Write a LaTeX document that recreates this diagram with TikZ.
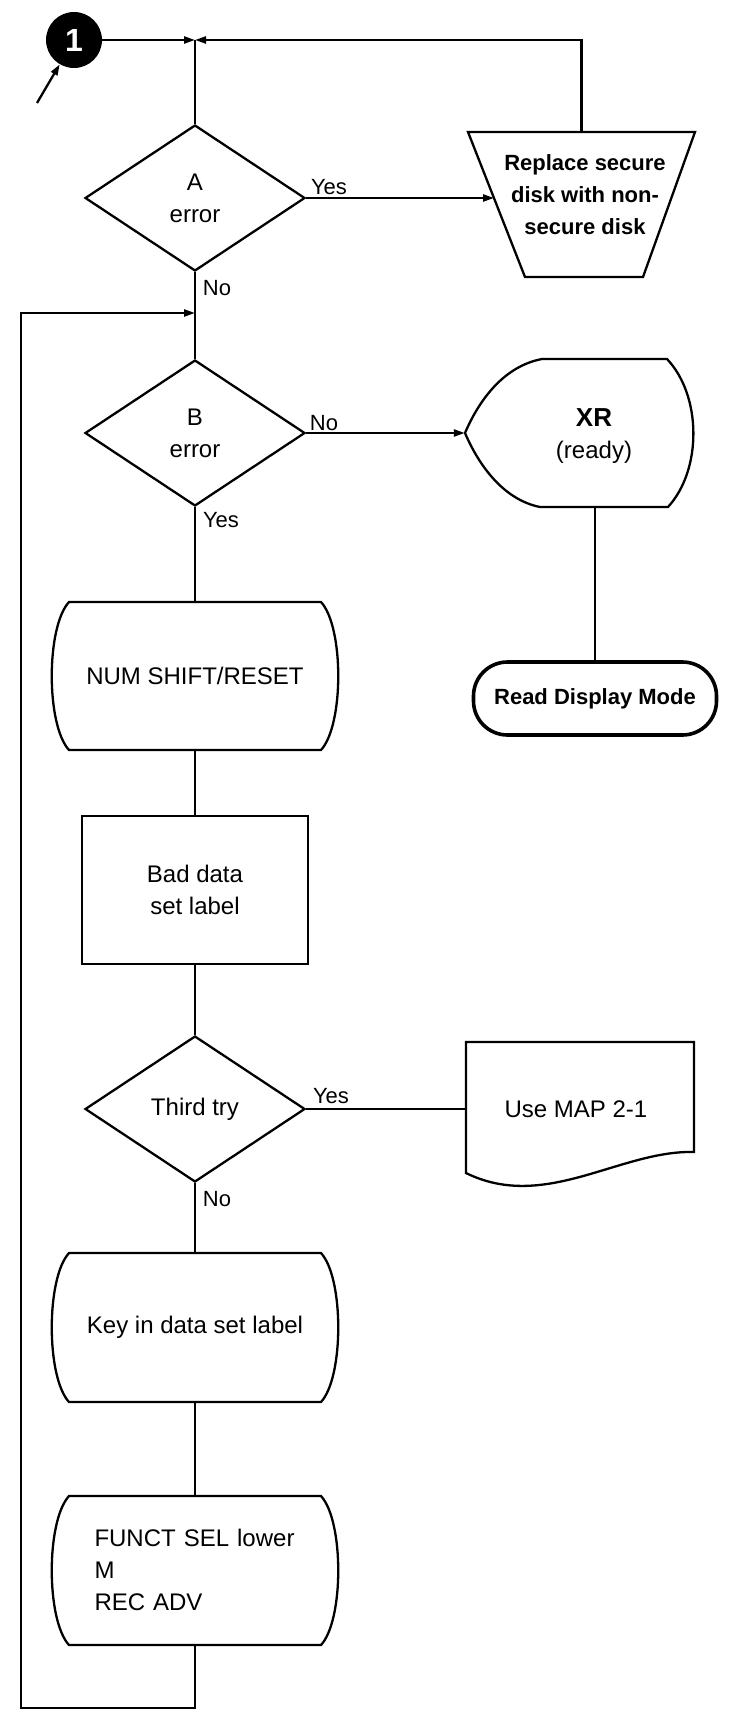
\documentclass[tikz,border=0pt]{standalone}
\usepackage{fontspec}
\setmainfont{Liberation Sans}
\usetikzlibrary{arrows.meta,shapes.geometric,calc}
\tikzset{
  ln/.style={line width=2.3pt, line join=miter},
  arr/.style={ln, -{Triangle[length=11pt,width=7pt]}},
  txt/.style={font=\fontsize{24}{32}\selectfont, align=center, inner sep=0pt},
  btxt/.style={font=\bfseries\fontsize{22}{32}\selectfont, align=center, inner sep=0pt},
  lbl/.style={font=\fontsize{22}{26}\selectfont, inner sep=0pt},
  dec/.style={diamond, draw, ln, inner sep=0pt, minimum width=220pt, minimum height=146pt, aspect=1.5, font=\fontsize{24}{32}\selectfont, align=center},
  outl/.style={rectangle, inner sep=0pt},
  procbox/.style={rectangle, draw, ln, inner sep=0pt, font=\fontsize{24}{32}\selectfont, align=center},
  termbox/.style={rectangle, draw, line width=3.6pt, rounded corners=34pt, inner sep=0pt, font=\bfseries\fontsize{22}{32}\selectfont}
}
\begin{document}
\begin{tikzpicture}[x=1pt,y=-1pt]
\fill[white] (0,0) rectangle (736,1712);
\useasboundingbox (0,0) rectangle (736,1712);

% connector circle
\node[circle, fill=black, minimum size=56pt, inner sep=0pt] (c1) at (74,40)
  {\color{white}\bfseries\fontsize{32}{32}\selectfont 1};
\coordinate (entry) at (37,103);
\coordinate (j1) at (195,40);
\coordinate (j2) at (195,313);

% decisions
\node[dec] (dA) at (195,198) {A\\error};
\node[dec] (dB) at (195,433) {B\\error};
\node[dec] (dT) at (195,1109) {Third try};

% replace (manual operation trapezoid)
\node[outl, minimum width=227pt, minimum height=145pt] (repl) at (581.5,204.5) {};
\draw[ln] (468,132) -- (695,132) -- (643,277) -- (525,277) -- cycle;
\node[btxt] (repltxt) at (585,195) {Replace secure\\disk with non-\\secure disk};
\coordinate (replin) at (494,198);

% XR display
\node[outl, minimum width=227pt, minimum height=147pt] (xr) at (578.5,433) {};
\draw[ln] (542,359) -- (667,359) .. controls (702,396) and (702,470) .. (668,507)
  -- (540,507) .. controls (505,500) and (480,468) .. (465,433)
  .. controls (480,398) and (505,366) .. (542,359) -- cycle;
\node[txt] (xrtxt) at (594,436) {{\bfseries\fontsize{26}{32}\selectfont XR}\\(ready)};

% terminal
\node[termbox, minimum width=243pt, minimum height=73pt] (term) at (595,698.5) {Read Display Mode};

% NUM SHIFT/RESET
\node[outl, minimum width=252pt, minimum height=148pt, txt] (num) at (195,676) {NUM SHIFT/RESET};
\draw[ln] (69,602) -- (321,602) .. controls (344,627) and (344,725) .. (321,750)
  -- (69,750) .. controls (46,725) and (46,627) .. (69,602) -- cycle;

% Bad data set label
\node[procbox, minimum width=226pt, minimum height=148pt] (bad) at (195,890) {Bad data\\set label};

% Use MAP 2-1 document
\node[outl, minimum width=228pt, minimum height=134pt] (doc) at (580,1109) {};
\draw[ln] (466,1042) -- (694,1042) -- (694,1152) .. controls (620,1150) and (545,1212) .. (466,1173) -- cycle;
\node[txt] (doctxt) at (576,1109) {Use MAP 2-1};

% Key in data set label
\node[outl, minimum width=252pt, minimum height=149pt, txt] (key) at (195,1327.5) {Key in data set label};
\draw[ln] (69,1253) -- (321,1253) .. controls (344,1278) and (344,1377) .. (321,1402)
  -- (69,1402) .. controls (46,1377) and (46,1278) .. (69,1253) -- cycle;

% FUNCT SEL
\node[outl, minimum width=252pt, minimum height=149pt] (funct) at (195,1570.5) {};
\draw[ln] (69,1496) -- (321,1496) .. controls (344,1521) and (344,1620) .. (321,1645)
  -- (69,1645) .. controls (46,1620) and (46,1521) .. (69,1496) -- cycle;
\node[txt, text width=205pt, align=left] (functtxt) at (197,1570) {FUNCT SEL lower\\M\\REC ADV};

\coordinate (lb) at (21,1708);

% connectors
\draw[arr] (entry) -- (c1);
\draw[arr] (c1) -- (j1);
\draw[arr] (repl.north) |- (j1);
\draw[ln] (j1) -- (dA.north);
\draw[arr] (dA.east) -- (replin);
\draw[ln] (dA.south) -- (dB.north);
\draw[arr] (dB.east) -- (xr.west);
\draw[ln] (term.north) -- (term.north |- xr.south);
\draw[ln] (dB.south) -- (num.north);
\draw[ln] (num.south) -- (bad.north);
\draw[ln] (bad.south) -- (dT.north);
\draw[ln] (dT.east) -- (doc.west);
\draw[ln] (dT.south) -- (key.north);
\draw[ln] (key.south) -- (funct.north);
\draw[arr] (funct.south) |- (lb) |- (j2);

% labels
\node[lbl] (yA) at (329,187) {Yes};
\node[lbl] (nA) at (217,288) {No};
\node[lbl] (nB) at (324,423) {No};
\node[lbl] (yB) at (221,520) {Yes};
\node[lbl] (yT) at (331,1096) {Yes};
\node[lbl] (nT) at (217,1199) {No};
\end{tikzpicture}
\end{document}
